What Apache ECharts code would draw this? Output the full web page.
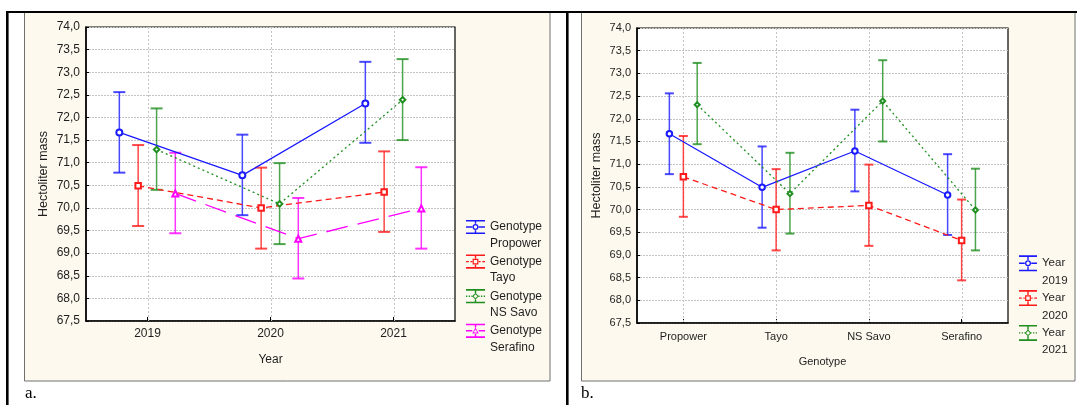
<!DOCTYPE html>
<html><head><meta charset="utf-8">
<script src="https://cdn.jsdelivr.net/npm/echarts@6/dist/echarts.min.js"></script>
<style>html,body{margin:0;padding:0;background:#fff}#c{width:1077px;height:405px}</style>
</head><body><div id="c"></div>
<script>
// ---------------- DATA ----------------
const years = ['2019', '2020', '2021'];
const genotypes = ['Propower', 'Tayo', 'NS Savo', 'Serafino'];
// mean hectoliter mass per genotype, by year (2019, 2020, 2021)
const propowerMean = [71.67, 70.72, 72.31];
const tayoMean     = [70.49, 70.00, 70.35];
const nsSavoMean   = [71.29, 70.09, 72.39];
const serafinoMean = [70.32, 69.32, 69.99];
// lower confidence limits
const propowerLow = [70.78, 69.84, 71.44];
const tayoLow     = [69.60, 69.10, 69.47];
const nsSavoLow   = [70.40, 69.20, 71.50];
const serafinoLow = [69.44, 68.44, 69.10];
// upper confidence limits
const propowerHigh = [72.56, 71.62, 73.23];
const tayoHigh     = [71.39, 70.89, 71.25];
const nsSavoHigh   = [72.20, 70.99, 73.29];
const serafinoHigh = [71.22, 70.22, 70.90];
// y axis tick labels
const yTickLabels = ['67,5','68,0','68,5','69,0','69,5','70,0','70,5','71,0','71,5','72,0','72,5','73,0','73,5','74,0'];

// ---------------- STYLE ----------------
const FONT = '"Liberation Sans", Arial, sans-serif';
const TXT = '#1e1e1e';
const genoColors = ['#1a1aff', '#ff1a1a', '#1f8f1f', '#ff00ff'];
const genoSymbols = ['emptyCircle', 'emptyRect', 'emptyDiamond', 'emptyTriangle'];
const genoSymSize = [6, 5.5, 5.5, 6];
const genoDash = ['solid', [6, 4], [2, 3], [22, 10]];
const genoIconDash = ['solid', 'dashed', 'dotted', 'solid'];
const genoIconMarker = ['circle', 'square', 'diamond', 'triangle'];
const offA = [-0.229, -0.076, 0.074, 0.226];   // horizontal dodge within category, panel a
const offB = [-0.151, 0, 0.149];               // panel b

const means = [propowerMean, tayoMean, nsSavoMean, serafinoMean];
const lows = [propowerLow, tayoLow, nsSavoLow, serafinoLow];
const highs = [propowerHigh, tayoHigh, nsSavoHigh, serafinoHigh];

function iconPath(W, H, cy, capHalf, marker, dash) {
  const t = 1.6, ht = t / 2, cx = W / 2, m = 3.2, sw = 0.7;
  const rect = (x0, x1, y0, y1) => `M${x0},${y0}H${x1}V${y1}H${x0}Z `;
  let d = `M0,0L0.01,0Z M${W},${H}L${W - 0.01},${H}Z `;
  d += rect(0, W, cy - capHalf - ht, cy - capHalf + ht);
  d += rect(0, W, cy + capHalf - ht, cy + capHalf + ht);
  d += rect(cx - sw, cx + sw, cy - capHalf + ht, cy - m);
  d += rect(cx - sw, cx + sw, cy + m, cy + capHalf - ht);
  let segs;
  if (dash === 'solid') segs = [[0, cx - m], [cx + m, W]];
  else if (dash === 'dashed') segs = [[0, 2.8], [4.4, cx - m], [cx + m, W - 4.4], [W - 2.8, W]];
  else segs = [[0, 1.3], [2.7, 4.0], [5.4, 6.3], [W - 6.3, W - 5.4], [W - 4.0, W - 2.7], [W - 1.3, W]];
  segs.forEach(s => { d += rect(s[0], s[1], cy - 0.7, cy + 0.7); });
  if (marker === 'circle') {
    const r = 3, ri = 1.7;
    d += `M${cx - r},${cy}A${r},${r} 0 1 0 ${cx + r},${cy}A${r},${r} 0 1 0 ${cx - r},${cy}Z `;
    d += `M${cx - ri},${cy}A${ri},${ri} 0 1 1 ${cx + ri},${cy}A${ri},${ri} 0 1 1 ${cx - ri},${cy}Z `;
  } else if (marker === 'square') {
    const s = 2.9, si = 1.7;
    d += `M${cx - s},${cy - s}H${cx + s}V${cy + s}H${cx - s}Z `;
    d += `M${cx - si},${cy - si}V${cy + si}H${cx + si}V${cy - si}Z `;
  } else if (marker === 'diamond') {
    const s = 3.4, si = 2.0;
    d += `M${cx},${cy - s}L${cx + s},${cy}L${cx},${cy + s}L${cx - s},${cy}Z `;
    d += `M${cx},${cy - si}L${cx - si},${cy}L${cx},${cy + si}L${cx + si},${cy}Z `;
  } else {
    d += `M${cx},${cy - 3.4}L${cx + 3.3},${cy + 2.8}L${cx - 3.3},${cy + 2.8}Z `;
    d += `M${cx},${cy - 1.4}L${cx - 1.9},${cy + 1.6}L${cx + 1.9},${cy + 1.6}Z `;
  }
  return 'path://' + d;
}

function errRender(capW, color) {
  return function (params, api) {
    const x = api.value(0), lo = api.value(1), hi = api.value(2);
    const pLo = api.coord([x, lo]), pHi = api.coord([x, hi]);
    const st = { stroke: color, lineWidth: 1.5, opacity: 0.8 };
    const cs = { stroke: color, lineWidth: 2, opacity: 0.8 };
    return { type: 'group', children: [
      { type: 'line', shape: { x1: pLo[0], y1: pLo[1], x2: pHi[0], y2: pHi[1] }, style: st },
      { type: 'line', shape: { x1: pHi[0] - capW / 2, y1: pHi[1], x2: pHi[0] + capW / 2, y2: pHi[1] }, style: cs },
      { type: 'line', shape: { x1: pLo[0] - capW / 2, y1: pLo[1], x2: pLo[0] + capW / 2, y2: pLo[1] }, style: cs }
    ]};
  };
}
// vertical grid line at each category centre, spanning the plot height
function vGridRender(params, api) {
  const cs = params.coordSys;
  const px = api.coord([api.value(0), 70])[0];
  return { type: 'line', shape: { x1: Math.round(px) + 0.5, y1: cs.y, x2: Math.round(px) + 0.5, y2: cs.y + cs.height },
    style: { stroke: '#c4c4c4', lineWidth: 1, lineDash: [2, 2] } };
}

const gridLineStyle = { color: '#c4c4c4', width: 1.2, type: [2, 1] };

function yAxisOpt(gridIndex, fs, nameGap) {
  return {
    type: 'value', gridIndex, min: 67.5, max: 74, interval: 0.5,
    name: 'Hectoliter mass', nameLocation: 'middle', nameGap,
    nameTextStyle: { fontSize: 12.5, color: TXT, fontFamily: FONT },
    axisLine: { show: true, onZero: false, lineStyle: { color: '#000', width: 1.5 } },
    axisTick: { show: true, inside: true, length: 3, lineStyle: { color: '#000' } },
    axisLabel: { fontSize: fs, color: TXT, fontFamily: FONT, margin: 6,
      formatter: v => yTickLabels[Math.round((v - 67.5) / 0.5)] },
    splitLine: { show: true, lineStyle: gridLineStyle }
  };
}
function xCatOpt(gridIndex, cats, name, fs, margin) {
  return {
    type: 'category', gridIndex, data: cats, boundaryGap: true,
    name, nameLocation: 'middle', nameGap: 33,
    nameTextStyle: { fontSize: fs, color: TXT, fontFamily: FONT },
    axisLine: { show: true, onZero: false, lineStyle: { color: '#000', width: 1.5 } },
    axisTick: { show: true, inside: true, alignWithLabel: true, length: 4, lineStyle: { color: '#000' } },
    axisLabel: { fontSize: fs, color: TXT, fontFamily: FONT, margin },
    splitLine: { show: false }
  };
}

const series = [];
series.push({ type: 'custom', xAxisIndex: 1, yAxisIndex: 0, z: 1, silent: true,
  renderItem: vGridRender, encode: { x: 0 }, data: years.map((y, i) => [i]) });
series.push({ type: 'custom', xAxisIndex: 3, yAxisIndex: 1, z: 1, silent: true,
  renderItem: vGridRender, encode: { x: 0 }, data: genotypes.map((g, i) => [i]) });

// Panel a: x = Year, one series per genotype
genotypes.forEach((g, gi) => {
  series.push({ type: 'custom', xAxisIndex: 1, yAxisIndex: 0, z: 3, silent: true,
    renderItem: errRender(12, genoColors[gi]), encode: { x: 0, y: [1, 2] },
    data: years.map((y, yi) => [yi + offA[gi], lows[gi][yi], highs[gi][yi]]) });
  series.push({ type: 'line', name: g, xAxisIndex: 1, yAxisIndex: 0, z: 5,
    symbol: genoSymbols[gi], symbolSize: genoSymSize[gi], showSymbol: true,
    lineStyle: { color: genoColors[gi], width: 1.3, type: genoDash[gi] },
    itemStyle: { color: genoColors[gi], borderWidth: 1.2 },
    data: years.map((y, yi) => [yi + offA[gi], means[gi][yi]]) });
});
// Panel b: x = Genotype, one series per year
const yearColors = genoColors.slice(0, 3);
years.forEach((y, yi) => {
  series.push({ type: 'custom', xAxisIndex: 3, yAxisIndex: 1, z: 3, silent: true,
    renderItem: errRender(9, yearColors[yi]), encode: { x: 0, y: [1, 2] },
    data: genotypes.map((g, gi) => [gi + offB[yi], lows[gi][yi], highs[gi][yi]]) });
  series.push({ type: 'line', name: y, xAxisIndex: 3, yAxisIndex: 1, z: 5,
    symbol: genoSymbols[yi], symbolSize: [5.5, 5.5, 5][yi], showSymbol: true,
    lineStyle: { color: yearColors[yi], width: 1.3, type: genoDash[yi] },
    itemStyle: { color: yearColors[yi], borderWidth: 1.2 },
    data: genotypes.map((g, gi) => [gi + offB[yi], means[gi][yi]]) });
});

const legA = { W: 19, H: 33, cy: 8.25, cap: 6.3 };
const legB = { W: 18, H: 34.8, cy: 8.7, cap: 7.2 };

const option = {
  animation: false,
  backgroundColor: '#ffffff',
  graphic: { elements: [
    { type: 'rect', z: -10, shape: { x: 24.5, y: 12.5, width: 525.5, height: 368.5 }, style: { fill: '#fdf9ee', stroke: '#707070', lineWidth: 1 } },
    { type: 'rect', z: -10, shape: { x: 581.5, y: 12.5, width: 493.5, height: 368.5 }, style: { fill: '#fdf9ee', stroke: '#707070', lineWidth: 1 } },
    { type: 'rect', z: -9, shape: { x: 6, y: 11, width: 1071, height: 2 }, style: { fill: '#000' } },
    { type: 'rect', z: -9, shape: { x: 6, y: 11, width: 2.6, height: 394 }, style: { fill: '#000' } },
    { type: 'rect', z: -9, shape: { x: 566, y: 11, width: 2.6, height: 394 }, style: { fill: '#000' } },
    { type: 'text', z: -9, left: 25, top: 385, style: { text: 'a.', font: '17px "Liberation Serif", "Times New Roman", serif', fill: '#000' } },
    { type: 'text', z: -9, left: 581, top: 385, style: { text: 'b.', font: '17px "Liberation Serif", "Times New Roman", serif', fill: '#000' } }
  ]},
  grid: [
    { left: 86, top: 27, width: 369, height: 294, show: true, backgroundColor: '#fff', borderColor: '#000', borderWidth: 1.2, containLabel: false },
    { left: 637, top: 28, width: 371, height: 295, show: true, backgroundColor: '#fff', borderColor: '#000', borderWidth: 1.2, containLabel: false }
  ],
  xAxis: [
    xCatOpt(0, years, 'Year', 12, 7),
    { type: 'value', gridIndex: 0, min: -0.5, max: 2.5, show: false },
    xCatOpt(1, genotypes, 'Genotype', 11, 8),
    { type: 'value', gridIndex: 1, min: -0.5, max: 3.5, show: false }
  ],
  yAxis: [ yAxisOpt(0, 12, 36), yAxisOpt(1, 11, 34) ],
  legend: [
    { orient: 'vertical', left: 466, top: 227 - legA.cy, padding: 0, itemGap: 1.6,
      itemWidth: legA.W, itemHeight: legA.H, selectedMode: false,
      itemStyle: { borderWidth: 0 },
      formatter: n => 'Genotype\n' + n,
      textStyle: { fontSize: 12, lineHeight: 16.5, color: TXT, fontFamily: FONT },
      data: genotypes.map((g, gi) => ({ name: g,
        icon: iconPath(legA.W, legA.H, legA.cy, legA.cap, genoIconMarker[gi], genoIconDash[gi]),
        itemStyle: { color: genoColors[gi], borderWidth: 0 } })) },
    { orient: 'vertical', left: 1019, top: 263.3 - legB.cy, padding: 0, itemGap: 0,
      itemWidth: legB.W, itemHeight: legB.H, selectedMode: false,
      itemStyle: { borderWidth: 0 },
      formatter: n => 'Year\n' + n,
      textStyle: { fontSize: 11.5, lineHeight: 17.4, color: TXT, fontFamily: FONT },
      data: years.map((y, yi) => ({ name: y,
        icon: iconPath(legB.W, legB.H, legB.cy, legB.cap, genoIconMarker[yi], genoIconDash[yi]),
        itemStyle: { color: yearColors[yi], borderWidth: 0 } })) }
  ],
  series
};

const chart = echarts.init(document.getElementById('c'), null, { renderer: 'canvas', width: 1077, height: 405 });
chart.setOption(option);
</script>
</body></html>
